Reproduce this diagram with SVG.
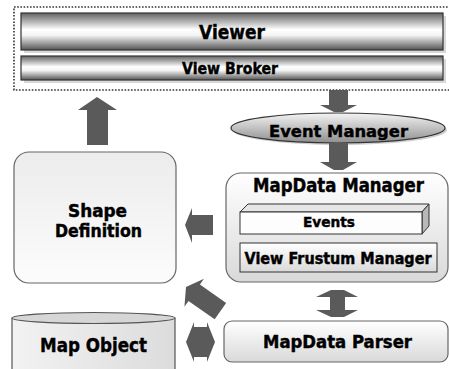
<svg xmlns="http://www.w3.org/2000/svg" width="449" height="369" viewBox="0 0 449 369">
<defs>
<linearGradient id="metal" x1="0" y1="0" x2="0" y2="1">
<stop offset="0" stop-color="#626262"/>
<stop offset="0.45" stop-color="#ffffff"/>
<stop offset="0.6" stop-color="#f4f4f4"/>
<stop offset="1" stop-color="#555555"/>
</linearGradient>
<linearGradient id="ellg" x1="0" y1="0" x2="0" y2="1">
<stop offset="0" stop-color="#f4f4f4"/>
<stop offset="1" stop-color="#8e8e8e"/>
</linearGradient>
<linearGradient id="boxg" x1="0" y1="0" x2="0" y2="1">
<stop offset="0" stop-color="#ffffff"/>
<stop offset="1" stop-color="#d9d9d9"/>
</linearGradient>
<linearGradient id="shapeg" x1="0" y1="0" x2="0" y2="1">
<stop offset="0" stop-color="#ececec"/>
<stop offset="1" stop-color="#fcfcfc"/>
</linearGradient>
<linearGradient id="cylg" x1="0" y1="0" x2="1" y2="0">
<stop offset="0" stop-color="#f2f2f2"/>
<stop offset="1" stop-color="#dcdcdc"/>
</linearGradient>
</defs>
<style>
.t{font-family:"DejaVu Sans","Liberation Sans",sans-serif;font-weight:bold;fill:#000;stroke:#000;stroke-width:0.45;text-anchor:middle}
.arr{fill:#5a5a5a}
.bar{fill:url(#metal);stroke:#333;stroke-width:1.2}
.rbox{stroke:#666;stroke-width:1.2}
</style>

<g id="viewer-frame">
<rect x="14" y="7" width="445" height="83" fill="none" stroke="#333" stroke-width="1.6" stroke-dasharray="1.6 1.6"/>
</g>
<g id="viewer">
<rect x="24" y="16" width="422" height="37" fill="#d8d8d8"/>
<rect x="21" y="13" width="422" height="37" class="bar"/>
<text class="t" x="232" y="39" font-size="19" textLength="66" lengthAdjust="spacingAndGlyphs">Viewer</text>
</g>
<g id="view-broker">
<rect x="24" y="59" width="422" height="24" fill="#d8d8d8"/>
<rect x="21" y="56" width="422" height="24" class="bar"/>
<text class="t" x="230" y="74" font-size="15" textLength="96" lengthAdjust="spacingAndGlyphs">View Broker</text>
</g>
<g id="event-manager">
<ellipse cx="340" cy="130" rx="107" ry="15" fill="#cfcfcf"/>
<ellipse cx="338" cy="128" rx="107" ry="15" fill="url(#ellg)" stroke="#333" stroke-width="1.2"/>
<text class="t" x="338.5" y="137" font-size="16.5" textLength="139" lengthAdjust="spacingAndGlyphs">Event Manager</text>
</g>
<g id="shape-definition">
<rect x="14" y="152" width="162" height="131" rx="15" fill="url(#shapeg)" class="rbox"/>
<text class="t" x="97.5" y="217" font-size="17" textLength="59" lengthAdjust="spacingAndGlyphs">Shape</text>
<text class="t" x="98.5" y="237" font-size="17" textLength="87" lengthAdjust="spacingAndGlyphs">Definition</text>
</g>
<g id="mapdata-manager">
<rect x="226" y="173" width="222" height="109" rx="15" fill="url(#boxg)" class="rbox"/>
<text class="t" x="338.5" y="192" font-size="19" textLength="171" lengthAdjust="spacingAndGlyphs">MapData Manager</text>
</g>
<g id="events">
<polygon points="240,212 248,204 429,204 422,212" fill="#e6e6e6" stroke="#333" stroke-width="1"/>
<polygon points="422,212 429,204 429,226 422,234" fill="#b8b8b8" stroke="#333" stroke-width="1"/>
<rect x="240" y="212" width="182" height="22" fill="#fdfdfd" stroke="#333" stroke-width="1"/>
<text class="t" x="329" y="227" font-size="14.5" textLength="52" lengthAdjust="spacingAndGlyphs">Events</text>
</g>
<g id="view-frustum-manager">
<rect x="240" y="243" width="197" height="29" fill="url(#boxg)" stroke="#333" stroke-width="1"/>
<text class="t" x="338" y="264" font-size="15" textLength="187" lengthAdjust="spacingAndGlyphs">View Frustum Manager</text>
</g>
<g id="map-object">
<path d="M12,318 V375 H175 V318" fill="url(#cylg)" stroke="#555" stroke-width="1.2"/>
<ellipse cx="93.5" cy="318" rx="81.5" ry="5.5" fill="#d6d6d6" stroke="#555" stroke-width="1.2"/>
<text class="t" x="93.5" y="352" font-size="20" textLength="107" lengthAdjust="spacingAndGlyphs">Map Object</text>
</g>
<g id="mapdata-parser">
<rect x="224" y="321" width="224" height="41" rx="8" fill="url(#boxg)" class="rbox"/>
<text class="t" x="337.5" y="348" font-size="18" textLength="149" lengthAdjust="spacingAndGlyphs">MapData Parser</text>
</g>

<g id="connectors">
<polygon class="arr" points="329,90 348,90 348,105 357,105 343,112 334,112 320,105 329,105"/>
<polygon class="arr" points="329,143 348,143 348,162 357,162 343,170 334,170 320,162 329,162"/>
<polygon class="arr" points="97,97 117,110 108,110 108,145 87,145 87,110 78,110"/>
<polygon class="arr" points="185,225 192,208 192,215 213,215 213,235 192,235 192,243"/>
<polygon class="arr" points="0,0 10,-17 10,-10 42,-10 42,10 10,10 10,17" transform="translate(186,287) rotate(35)"/>
<polygon class="arr" points="186,342 194,322 194,327 207,327 207,322 215,342 207,362 207,357 194,357 194,362"/>
<polygon class="arr" points="331,290 344,290 358,297 345,297 345,310 358,310 344,317 331,317 316,310 330,310 330,297 316,297"/>
</g>
</svg>
